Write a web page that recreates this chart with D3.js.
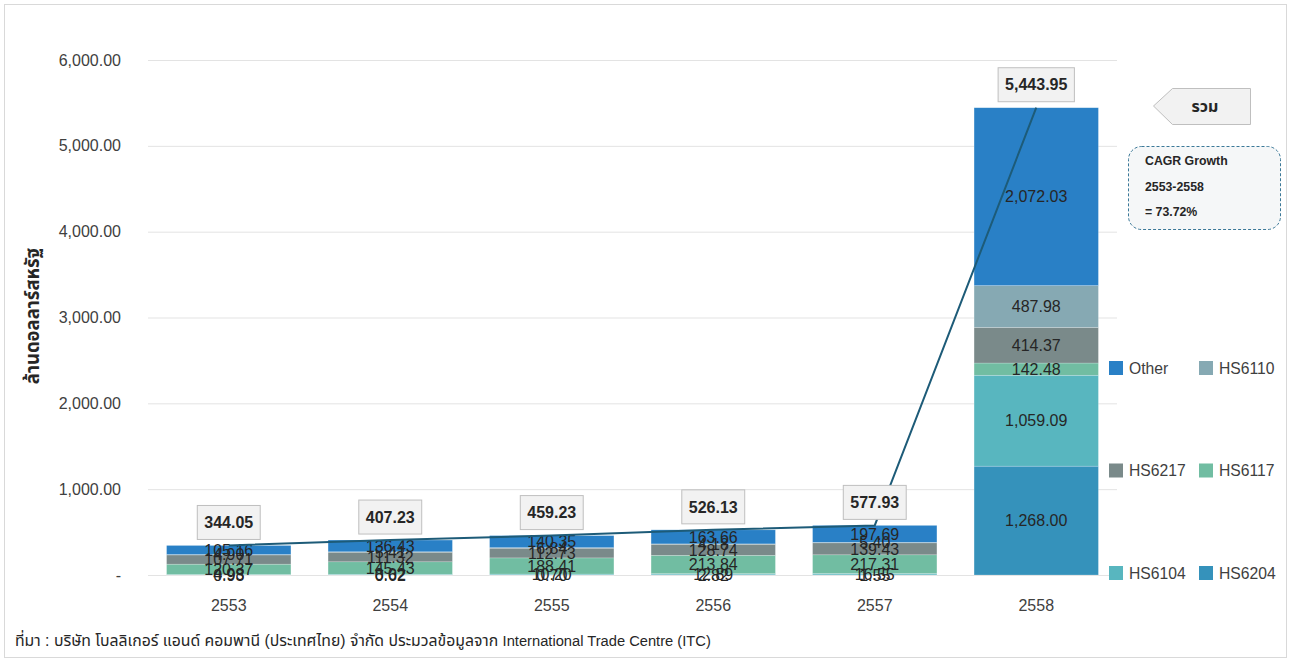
<!DOCTYPE html>
<html><head><meta charset="utf-8">
<script src="https://cdn.jsdelivr.net/npm/d3@7/dist/d3.min.js"></script>
<style>
body{margin:0;background:#fff;}
svg text{font-family:"Liberation Sans",Arial,"Noto Sans Thai","Noto Sans","DejaVu Sans",sans-serif;}
</style></head>
<body><svg id="c" width="1290" height="661"></svg>
<script>
const years = ["2553","2554","2555","2556","2557","2558"];
const seriesNames = ["HS6204","HS6104","HS6117","HS6217","HS6110","Other"];
const HS6204 = [0.93, 0.62, 0.70, 2.82, 1.55, 1268.00];
const HS6104 = [4.98, 8.02, 10.20, 12.89, 16.55, 1059.09];
const HS6117 = [120.37, 145.43, 188.41, 213.84, 217.31, 142.48];
const HS6217 = [107.71, 111.32, 112.73, 128.74, 139.43, 414.37];
const HS6110 = [4.90, 5.41, 6.84, 4.18, 5.40, 487.98];
const Other = [105.16, 136.43, 140.35, 163.66, 197.69, 2072.03];
const totals = [344.05, 407.23, 459.23, 526.13, 577.93, 5443.95];
const yTicks = [0,1000,2000,3000,4000,5000,6000];
const colors = {HS6204:"#3592bb",HS6104:"#58b6bf",HS6117:"#71bda2",HS6217:"#7a8a8a",HS6110:"#86a9b3",Other:"#2980c6"};
const legendOrder = ["Other","HS6110","HS6217","HS6117","HS6104","HS6204"];

const seriesData = {HS6204,HS6104,HS6117,HS6217,HS6110,Other};
const table = years.map((y,i)=>{const r={year:y};seriesNames.forEach(s=>r[s]=seriesData[s][i]);return r;});

const svg = d3.select("#c");
const font = '"Liberation Sans",Arial,"Noto Sans Thai",sans-serif';

svg.append("rect").attr("x",4.5).attr("y",4.5).attr("width",1282).attr("height",653)
  .attr("fill","#fff").attr("stroke","#d9d9d9");

const x = d3.scaleBand().domain(years).range([148,1117]).paddingInner(0.23).paddingOuter(0.115);
const y = d3.scaleLinear().domain([0,6000]).range([575,60]);

// gridlines
svg.append("g").selectAll("line").data(yTicks).join("line")
  .attr("x1",148).attr("x2",1117).attr("y1",d=>y(d)+0.5).attr("y2",d=>y(d)+0.5)
  .attr("stroke","#e3e3e3");

// y axis labels
const yAxis = d3.axisLeft(y).tickValues(yTicks).tickSize(0).tickPadding(0)
  .tickFormat(d=> d===0 ? "-" : d3.format(",.2f")(d));
const ga = svg.append("g").attr("transform","translate(121,0)").call(yAxis);
ga.select(".domain").remove();
ga.selectAll("text").attr("font-size",16).attr("fill","#404040").style("font-family",font);

// x axis labels
const xAxis = d3.axisBottom(x).tickSize(0).tickPadding(0);
const gx = svg.append("g").attr("transform","translate(0,600)").call(xAxis);
gx.select(".domain").remove();
gx.selectAll("text").attr("font-size",16).attr("fill","#404040").style("font-family",font);

// stacked bars
const stack = d3.stack().keys(seriesNames)(table);
const gs = svg.append("g").selectAll("g").data(stack).join("g").attr("fill",d=>colors[d.key]);
gs.selectAll("rect").data(d=>d).join("rect")
  .attr("x",d=>x(d.data.year)).attr("width",x.bandwidth())
  .attr("y",d=>y(d[1])).attr("height",d=>y(d[0])-y(d[1]))
  .attr("stroke","rgba(255,255,255,0.35)").attr("stroke-width",0.6);

// segment labels
const gl = svg.append("g");
stack.forEach(layer=>{
  gl.selectAll(null).data(layer).join("text")
    .attr("x",d=>x(d.data.year)+x.bandwidth()/2)
    .attr("y",d=>(y(d[0])+y(d[1]))/2)
    .attr("dy","0.36em").attr("text-anchor","middle")
    .attr("font-size",16).attr("fill","#262626")
    .text(d=>d3.format(",.2f")(d[1]-d[0]));
});

// total line
const line = d3.line().x((d,i)=>x(years[i])+x.bandwidth()/2).y(d=>y(d));
svg.append("path").datum(totals).attr("d",line).attr("fill","none")
  .attr("stroke","#1d5b78").attr("stroke-width",2);

// total labels
const gt = svg.append("g");
totals.forEach((t,i)=>{
  const cx = x(years[i])+x.bandwidth()/2, cy = y(t)-23;
  const g = gt.append("g");
  const txt = g.append("text").attr("x",cx).attr("y",cy).attr("dy","0.36em")
    .attr("text-anchor","middle").attr("font-size",16).attr("font-weight","bold")
    .attr("fill","#262626").text(d3.format(",.2f")(t));
  const w = txt.node().getComputedTextLength()+14;
  g.insert("rect","text").attr("x",cx-w/2).attr("y",cy-17).attr("width",w).attr("height",34)
    .attr("fill","#f2f2f2").attr("stroke","#bfbfbf");
});

// y title
svg.append("text").attr("transform","translate(39,316) rotate(-90)")
  .attr("text-anchor","middle").attr("font-size",18.5).attr("font-weight","bold")
  .attr("fill","#262626").text("ล้านดอลลาร์สหรัฐ");

// callout รวม
svg.append("path").attr("d","M1153.5,106 L1172.5,88.5 L1250.5,88.5 L1250.5,124.5 L1172.5,124.5 Z")
  .attr("fill","#f2f2f2").attr("stroke","#bfbfbf");
svg.append("text").attr("x",1205).attr("y",106).attr("dy","0.36em").attr("text-anchor","middle")
  .attr("font-size",16).attr("font-weight","bold").attr("fill","#262626").text("รวม");

// CAGR box
svg.append("rect").attr("x",1128.5).attr("y",146.5).attr("width",152).attr("height",83).attr("rx",13)
  .attr("fill","#f5f7f8").attr("stroke","#3b7898").attr("stroke-dasharray","3,2");
["CAGR Growth","2553-2558","= 73.72%"].forEach((s,i)=>{
  svg.append("text").attr("x",1145).attr("y",161+i*25.5).attr("dy","0.36em")
    .attr("font-size",12.3).attr("font-weight","bold").attr("fill","#262626").text(s);
});

// legend
const lg = svg.append("g");
legendOrder.forEach((s,i)=>{
  const col=i%2,row=Math.floor(i/2);
  const lx = col===0?1109:1199, ly = 368+row*102.5;
  lg.append("rect").attr("x",lx).attr("y",ly-7).attr("width",14).attr("height",14).attr("fill",colors[s]);
  lg.append("text").attr("x",lx+20).attr("y",ly).attr("dy","0.36em").attr("font-size",15.7)
    .attr("fill","#404040").text(s);
});

// footnote
const fn = svg.append("text").attr("x",15).attr("y",641).attr("dy","0.36em").attr("font-size",14.7)
  .attr("fill","#262626");
fn.append("tspan").attr("font-size",15.8).text("ที่มา : บริษัท โบลลิเกอร์ แอนด์ คอมพานี (ประเทศไทย) จำกัด ประมวลข้อมูลจาก ");
fn.append("tspan").text("International Trade Centre (ITC)");
</script></body></html>
